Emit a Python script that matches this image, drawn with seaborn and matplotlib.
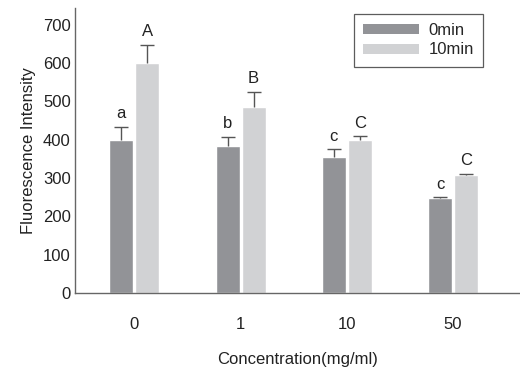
import pandas as pd
import numpy as np
import seaborn as sns
import matplotlib.pyplot as plt
from matplotlib.patches import Patch

# data
concentrations = ["0", "1", "10", "50"]
times = ["0min", "10min"]
intensity_0min = [400, 384, 354, 248]
intensity_10min = [600, 485, 400, 309]
err_0min = [33, 23, 21, 2]
err_10min = [47, 40, 9, 2]
letters_0min = ["a", "b", "c", "c"]
letters_10min = ["A", "B", "C", "C"]

df = pd.DataFrame({
    "conc": concentrations * 2,
    "time": [times[0]] * 4 + [times[1]] * 4,
    "value": intensity_0min + intensity_10min,
})

colors = {"0min": "#929397", "10min": "#d1d2d4"}
fs = 12

sns.set_style("white")
plt.rcParams['font.family'] = ['Liberation Sans', 'DejaVu Sans']

fig = plt.figure(figsize=(5.2, 3.7), dpi=100)
ax = fig.add_axes([0.144, 0.208, 0.856, 0.770])

sns.barplot(data=df, x="conc", y="value", hue="time", order=concentrations,
            hue_order=times, palette=colors, errorbar=None, width=0.49,
            gap=0.08, saturation=1, legend=False, ax=ax)

bar_conts = list(ax.containers)
errs = [err_0min, err_10min]
letters = [letters_0min, letters_10min]
vals = [intensity_0min, intensity_10min]
for k, cont in enumerate(bar_conts):
    xs = [p.get_x() + p.get_width() / 2 for p in cont.patches]
    eb = ax.errorbar(xs, vals[k], yerr=[np.zeros(4), errs[k]], fmt="none",
                     ecolor="#555555", elinewidth=1, capsize=5, capthick=1)
    # only the upper cap is shown
    eb[1][0].set_visible(False)
    for x, v, e, t in zip(xs, vals[k], errs[k], letters[k]):
        ax.annotate(t, (x, v + e), xytext=(0, 4), textcoords="offset points",
                    ha="center", va="bottom", fontsize=fs, color="#222222")

ax.set_xlim(-0.56, 3.63)
ax.set_ylim(0, 743)
ax.set_yticks(range(0, 701, 100))
sns.despine(ax=ax)
for s in ["left", "bottom"]:
    ax.spines[s].set_color("#666666")
    ax.spines[s].set_linewidth(1)
ax.tick_params(axis="y", direction="in", length=11, width=1, color="#444444",
               pad=3, labelsize=fs, labelcolor="#222222")
ax.tick_params(axis="x", length=0, pad=17, labelsize=fs, labelcolor="#222222")
ax.set_xlabel("Concentration(mg/ml)", fontsize=fs, labelpad=15, color="#222222")
ax.set_ylabel("Fluorescence Intensity", fontsize=fs, labelpad=5, color="#222222")

handles = [Patch(facecolor=colors[t], edgecolor="none", label=t) for t in times]
leg = ax.legend(handles=handles, loc="upper right", bbox_to_anchor=(0.917, 0.979),
                borderaxespad=0, frameon=True, fancybox=False, fontsize=fs,
                handlelength=3.4, handleheight=0.55, handletextpad=0.55,
                labelspacing=0.25, borderpad=0.55)
leg.get_frame().set_edgecolor("#333333")
leg.get_frame().set_linewidth(0.9)

plt.savefig("out.png", dpi=100)
plt.close()
